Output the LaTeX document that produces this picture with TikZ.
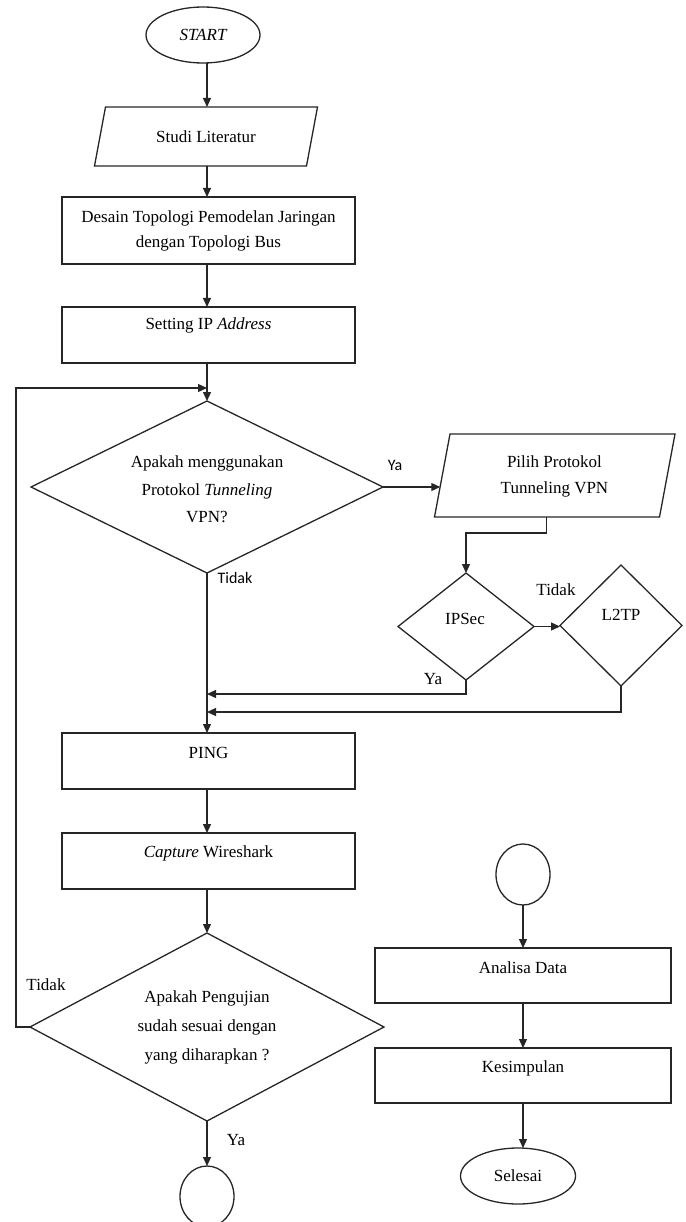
\documentclass[tikz,border=0pt]{standalone}
\usepackage{fontspec}
\setmainfont{Liberation Serif}
\newfontfamily\labelsans{Carlito}
\usetikzlibrary{shapes.geometric,arrows.meta}
\begin{document}
\begin{tikzpicture}[x=1pt,y=-1pt,
  every node/.style={inner sep=0pt, outer sep=0pt, text=black},
  line/.style={draw=black!85, line width=1.3pt},
  arr/.style={line, -{Triangle[length=9pt,width=8pt]}},
  procbox/.style={draw=black!85, line width=1.3pt, rectangle},
  termin/.style={draw=black!85, line width=1.3pt, ellipse},
  decision/.style={draw=black!85, line width=1.3pt, diamond},
  txt/.style={font=\fontsize{17}{26}\selectfont, align=center},
  serlab/.style={font=\fontsize{17}{20}\selectfont},
  sanslab/.style={font=\labelsans\fontsize{16}{19}\selectfont},
  ]
\useasboundingbox (0,0) rectangle (685,1222);
\coordinate (col) at (207,0);
\coordinate (rcol) at (523,0);
\coordinate (loopc) at (16,388);

% START
\node[termin, minimum width=114pt, minimum height=56pt, txt] (start) at (203,35) {\itshape START};

% Studi Literatur (parallelogram)
\node[minimum width=212pt, minimum height=59pt, txt] (studi) at (206,136.5) {Studi Literatur};
\draw[line] ([xshift=5.5pt]studi.north west) -- ([xshift=5.5pt]studi.north east)
  -- ([xshift=-5.5pt]studi.south east) -- ([xshift=-5.5pt]studi.south west) -- cycle;

% Desain
\node[procbox, minimum width=293pt, minimum height=67pt, txt, font=\fontsize{17}{25}\selectfont] (desain) at (208.5,230.5)
  {Desain Topologi Pemodelan Jaringan\\dengan Topologi Bus};

% Setting IP
\node[procbox, minimum width=293pt, minimum height=56pt] (setting) at (208.5,335) {};
\node[txt] (settingtxt) at (208.5,325) {Setting IP \textit{Address}};

% Decision 1
\node[decision, minimum width=352pt, minimum height=172pt] (d1) at (207,487) {};
\node[txt, font=\fontsize{17}{27.5}\selectfont] (d1txt) at (207,489.5) {Apakah menggunakan\\Protokol \textit{Tunneling}\\VPN?};

% Pilih Protokol (parallelogram)
\node[minimum width=225pt, minimum height=83pt] (pilih) at (554.75,475.5) {};
\draw[line] ([xshift=7.75pt]pilih.north west) -- ([xshift=7.75pt]pilih.north east)
  -- ([xshift=-7.75pt]pilih.south east) -- ([xshift=-7.75pt]pilih.south west) -- cycle;
\node[txt] (pilihtxt) at (554.5,476) {Pilih Protokol\\Tunneling VPN};

% IPSec and L2TP
\node[decision, minimum width=136pt, minimum height=107pt] (ipsec) at (466,626.5) {};
\node[txt] (ipsectxt) at (465,619) {IPSec};
\node[decision, minimum width=122pt, minimum height=121pt] (l2tp) at (621,625.5) {};
\node[txt] (l2tptxt) at (621,615) {L2TP};

% PING and Capture
\node[procbox, minimum width=293pt, minimum height=56pt] (ping) at (208.5,761) {};
\node[txt] (pingtxt) at (208.5,753) {PING};
\node[procbox, minimum width=293pt, minimum height=56pt] (capture) at (208.5,861) {};
\node[txt] (capturetxt) at (208.5,853) {\textit{Capture} Wireshark};

% Decision 2
\node[decision, minimum width=354pt, minimum height=188pt] (d2) at (207,1027) {};
\node[txt, font=\fontsize{17}{29}\selectfont] (d2txt) at (207,1027) {Apakah Pengujian\\sudah sesuai dengan\\yang diharapkan ?};

% connectors at bottom
\node[termin, minimum width=54pt, minimum height=61pt] (endc) at (207,1196.5) {};
\node[termin, minimum width=54pt, minimum height=61pt] (conn) at (523,874.5) {};

% Right column
\node[procbox, minimum width=296pt, minimum height=55pt] (analisa) at (523,975.5) {};
\node[txt] (analisatxt) at (523,968) {Analisa Data};
\node[procbox, minimum width=296pt, minimum height=55pt] (kes) at (523,1075.5) {};
\node[txt] (kestxt) at (523,1068) {Kesimpulan};
\node[termin, minimum width=115pt, minimum height=56pt, txt] (selesai) at (518,1176) {Selesai};

% Labels
\node[sanslab] (ya1) at (395,465) {Ya};
\node[sanslab] (tidak1) at (235,578) {Tidak};
\node[serlab] (tidak2) at (556,590) {Tidak};
\node[serlab] (ya2) at (433,679) {Ya};
\node[serlab] (tidak3) at (46,985) {Tidak};
\node[serlab] (ya3) at (236,1140) {Ya};

% Main connectors
\draw[arr] (start.south -| col) -- (col |- studi.north);
\draw[arr] (studi.south -| col) -- (col |- desain.north);
\draw[arr] (desain.south -| col) -- (col |- setting.north);
\draw[arr] (setting.south -| col) -- (d1.north);
\draw[arr] (d1.south) -- (d1.south |- ping.north);
\draw[arr] (ping.south -| col) -- (col |- capture.north);
\draw[arr] (capture.south -| col) -- (d2.north);
\draw[arr] (d2.south) -- (d2.south |- endc.north);

% Loop back
\draw[arr] (d2.west) -- (d2.west -| loopc) -- (loopc) -- (loopc -| col);

% Ya branch
\draw[arr] (d1.east) -- ([xshift=-2pt]d1.east -| pilih.west);
\coordinate (pb) at ([xshift=-8pt]pilih.south);
\draw[arr] (pb) -- ++(0,16) -| (ipsec.north);
\draw[arr] (ipsec.east) -- (ipsec.east -| l2tp.west);
\draw[arr] (ipsec.south) -- ++(0,14) coordinate (ib) -- (ib -| col);
\draw[arr] (l2tp.south) -- ++(0,26) coordinate (lb) -- (lb -| col);

% Right column connectors
\draw[arr] (conn.south) -- (rcol |- analisa.north);
\draw[arr] (analisa.south -| rcol) -- (rcol |- kes.north);
\draw[arr] (kes.south -| rcol) -- (rcol |- selesai.north);
\end{tikzpicture}
\end{document}
